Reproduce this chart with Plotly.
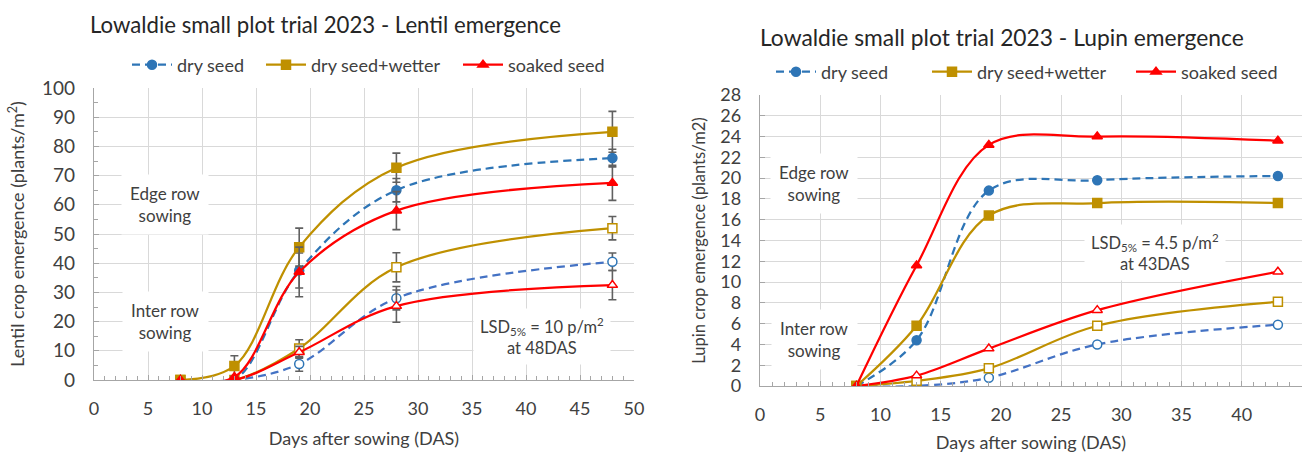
import plotly.graph_objects as go

# ---------------- Lentil data (plants/m2) ----------------
lentil_days = [8, 13, 19, 28, 48]
lentil_edge_dry = [0, 0, 37.5, 65, 76]
lentil_edge_wetter = [0, 4.8, 45.5, 72.7, 85]
lentil_edge_soaked = [0, 1, 37, 58, 67.5]
lentil_inter_dry = [0, 0, 5.5, 28, 40.5]
lentil_inter_wetter = [0, 0, 10.8, 38.6, 52]
lentil_inter_soaked = [0, 0, 9.5, 25.3, 32.5]

lentil_err_edge_dry = [0, 0, 6, 4, 3]
lentil_err_edge_wetter = [0, 3.5, 6.5, 5, 7]
lentil_err_edge_soaked = [0, 0, 8.5, 6.5, 6]
lentil_err_inter_dry = [0, 0, 2.5, 4, 3]
lentil_err_inter_wetter = [0, 0, 3, 5, 4]
lentil_err_inter_soaked = [0, 0, 2, 5.5, 5]

# ---------------- Lupin data (plants/m2) ----------------
lupin_days = [8, 13, 19, 28, 43]
lupin_edge_dry = [0, 4.4, 18.8, 19.8, 20.2]
lupin_edge_wetter = [0, 5.8, 16.4, 17.6, 17.6]
lupin_edge_soaked = [0, 11.6, 23.2, 24.0, 23.6]
lupin_inter_dry = [0, 0, 0.8, 4.0, 5.9]
lupin_inter_wetter = [0, 0.5, 1.7, 5.8, 8.1]
lupin_inter_soaked = [0, 1.0, 3.6, 7.3, 11.0]

BLUE = "#2E75B6"
BLUE_INTER = "#4472C4"
GOLD = "#BF9000"
RED = "#FF0000"
ERR = "#606060"
GRID = "#D9D9D9"
AXIS = "#A6A6A6"
TEXT = "#404040"
FONT = "Lato"

styles = {
    "dry seed": dict(color=BLUE, dash="8px,5px", symbol="circle"),
    "dry seed+wetter": dict(color=GOLD, dash="solid", symbol="square"),
    "soaked seed": dict(color=RED, dash="solid", symbol="triangle-up"),
}

W, H = 1311, 453


def px_x(v):
    return v / W


def px_y(v):
    return 1 - v / H


fig = go.Figure()


def add_series(x, y, name, xa, ya, filled, legend=None, err=None):
    st = styles[name]
    col = st["color"]
    line_col = col if (filled or name != "dry seed") else BLUE_INTER
    marker = dict(symbol=st["symbol"], size=9,
                  color=col if filled else "white",
                  line=dict(color=col, width=1.5))
    kw = {}
    if err is not None:
        kw["error_y"] = dict(type="data", array=err, visible=True,
                             color=ERR, thickness=1.6, width=4)
    fig.add_trace(go.Scatter(
        x=x, y=y, name=name, mode="lines+markers",
        line=dict(color=line_col, width=2.25, dash=st["dash"],
                  shape="spline", smoothing=1.0),
        marker=marker, xaxis=xa, yaxis=ya,
        legend=legend if legend else "legend",
        showlegend=legend is not None, hoverinfo="x+y", **kw))


# Lentil (left panel): inter-row first so edge-row lines sit on top
add_series(lentil_days, lentil_inter_dry, "dry seed", "x", "y", False, err=lentil_err_inter_dry)
add_series(lentil_days, lentil_inter_wetter, "dry seed+wetter", "x", "y", False, err=lentil_err_inter_wetter)
add_series(lentil_days, lentil_inter_soaked, "soaked seed", "x", "y", False, err=lentil_err_inter_soaked)
add_series(lentil_days, lentil_edge_dry, "dry seed", "x", "y", True, "legend", lentil_err_edge_dry)
add_series(lentil_days, lentil_edge_wetter, "dry seed+wetter", "x", "y", True, "legend2", lentil_err_edge_wetter)
add_series(lentil_days, lentil_edge_soaked, "soaked seed", "x", "y", True, "legend3", lentil_err_edge_soaked)

# Lupin (right panel)
add_series(lupin_days, lupin_inter_dry, "dry seed", "x2", "y2", False)
add_series(lupin_days, lupin_inter_wetter, "dry seed+wetter", "x2", "y2", False)
add_series(lupin_days, lupin_inter_soaked, "soaked seed", "x2", "y2", False)
add_series(lupin_days, lupin_edge_dry, "dry seed", "x2", "y2", True, "legend4")
add_series(lupin_days, lupin_edge_wetter, "dry seed+wetter", "x2", "y2", True, "legend5")
add_series(lupin_days, lupin_edge_soaked, "soaked seed", "x2", "y2", True, "legend6")

xaxis_common = dict(
    showgrid=True, gridcolor=GRID, gridwidth=1,
    showline=True, linecolor=AXIS, linewidth=1.3,
    ticks="inside", ticklen=5, tickcolor=AXIS,
    tickfont=dict(family=FONT, size=18, color=TEXT),
    minor=dict(ticks="inside", ticklen=4, dtick=1, tickcolor=AXIS, showgrid=False),
    zeroline=False, mirror=False, ticklabelstandoff=12, automargin=False,
    title=dict(text="Days after sowing (DAS)", font=dict(family=FONT, size=18, color=TEXT), standoff=14),
    fixedrange=True,
)
yaxis_common = dict(
    showgrid=True, gridcolor=GRID, gridwidth=1,
    showline=True, linecolor=AXIS, linewidth=1.3,
    ticks="inside", ticklen=5, tickcolor=AXIS,
    zeroline=False, ticklabelstandoff=14, fixedrange=True, automargin=False,
)

legend_font = dict(family=FONT, size=18, color=TEXT)


def legend_at(text_left, y_center):
    return dict(orientation="h", x=px_x(text_left - 48), y=px_y(y_center),
                xanchor="left", yanchor="middle", bgcolor="rgba(0,0,0,0)",
                font=legend_font, itemwidth=40)


fig.update_layout(
    width=W, height=H,
    margin=dict(l=0, r=0, t=0, b=0, autoexpand=False),
    paper_bgcolor="white", plot_bgcolor="white",
    font=dict(family=FONT, color=TEXT),
    xaxis=dict(xaxis_common, domain=[px_x(94), px_x(634)], range=[0, 50], dtick=5, anchor="y"),
    yaxis=dict(yaxis_common, domain=[px_y(380), px_y(88)], range=[0, 100], dtick=10, anchor="x",
               tickfont=dict(family=FONT, size=19, color=TEXT),
               minor=dict(ticks="inside", ticklen=4, dtick=5, tickcolor=AXIS, showgrid=False),
               title=dict(text="Lentil crop emergence (plants/m<sup>2</sup>)",
                          font=dict(family=FONT, size=18, color=TEXT), standoff=12)),
    xaxis2=dict(xaxis_common, domain=[px_x(760), px_x(1302)], range=[0, 45], dtick=5, anchor="y2"),
    yaxis2=dict(yaxis_common, domain=[px_y(386), px_y(95)], range=[0, 28], dtick=2, anchor="x2",
                tickfont=dict(family=FONT, size=18, color=TEXT),
                title=dict(text="Lupin crop emergence (plants/m2)",
                           font=dict(family=FONT, size=16.5, color=TEXT), standoff=10)),
    legend=legend_at(175, 65),
    legend2=legend_at(309, 65),
    legend3=legend_at(506, 65),
    legend4=legend_at(819, 72),
    legend5=legend_at(975, 72),
    legend6=legend_at(1179, 72),
    showlegend=True,
)

ann_font = dict(family=FONT, size=17, color=TEXT)
lsd_font = dict(family=FONT, size=16.5, color=TEXT)
annotations = [
    # titles
    dict(text="Lowaldie small plot trial 2023 - Lentil emergence", xref="paper", yref="paper",
         x=px_x(88), y=px_y(24), xanchor="left", yanchor="middle", showarrow=False,
         font=dict(family=FONT, size=22.2, color="#262626")),
    dict(text="Lowaldie small plot trial 2023 - Lupin emergence", xref="paper", yref="paper",
         x=px_x(758), y=px_y(37), xanchor="left", yanchor="middle", showarrow=False,
         font=dict(family=FONT, size=22.8, color="#262626")),
    # region labels, lentil
    dict(text="Edge row<br>sowing", xref="x", yref="y", x=6.6, y=60, showarrow=False,
         font=ann_font, bgcolor="white", borderpad=8),
    dict(text="Inter row<br>sowing", xref="x", yref="y", x=6.6, y=20, showarrow=False,
         font=ann_font, bgcolor="white", borderpad=8),
    dict(text="LSD<sub>5%</sub> = 10 p/m<sup>2</sup><br>at 48DAS", xref="x", yref="y", x=41.5, y=15,
         showarrow=False, font=lsd_font, bgcolor="white", borderpad=6),
    # region labels, lupin
    dict(text="Edge row<br>sowing", xref="x2", yref="y2", x=4.5, y=19.5, showarrow=False,
         font=ann_font, bgcolor="white", borderpad=8),
    dict(text="Inter row<br>sowing", xref="x2", yref="y2", x=4.5, y=4.5, showarrow=False,
         font=ann_font, bgcolor="white", borderpad=8),
    dict(text="LSD<sub>5%</sub> = 4.5 p/m<sup>2</sup><br>at 43DAS", xref="x2", yref="y2", x=32.8, y=12.8,
         showarrow=False, font=lsd_font, bgcolor="white", borderpad=6),
]
fig.update_layout(annotations=annotations)

fig.write_html("out.html")
